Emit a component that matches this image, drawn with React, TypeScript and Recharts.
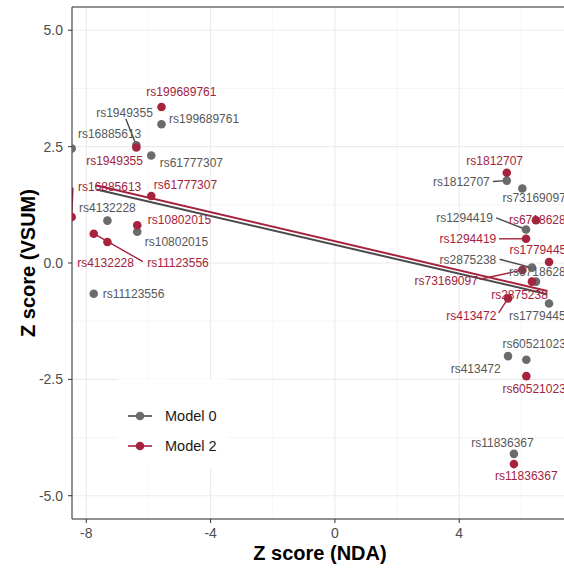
import React from 'react'
import { CartesianGrid, ReferenceLine, Scatter, ScatterChart, XAxis, YAxis } from 'recharts'

const FONT = '"Liberation Sans", Arial, Helvetica, sans-serif'

const snpIds = [
  'rs199689761', 'rs1949355', 'rs16885613', 'rs61777307', 'rs4132228', 'rs10802015',
  'rs11123556', 'rs1812707', 'rs73169097', 'rs1294419', 'rs6718628', 'rs2875238',
  'rs1779445', 'rs413472', 'rs60521023', 'rs11836367',
]
// Z score (NDA), shared by both models
const ndaZ = [-5.58, -6.39, -8.47, -5.91, -7.32, -6.36, -7.76, 5.53, 6.03, 6.15, 6.47, 6.34, 6.89, 5.57, 6.16, 5.76]
// Z score (VSUM)
const vsumModel0 = [2.98, 2.53, 2.46, 2.31, 0.91, 0.67, -0.66, 1.77, 1.6, 0.72, -0.4, -0.1, -0.87, -2.0, -2.08, -4.1]
const vsumModel2 = [3.35, 2.48, 0.99, 1.44, 0.45, 0.81, 0.63, 1.94, -0.15, 0.52, 0.92, -0.4, 0.02, -0.76, -2.43, -4.32]

// repelled label spots, in data units
const labelX0 = [-4.21, -6.77, -7.25, -4.62, -7.32, -5.1, -6.48, 4.07, 5.39, 4.17, 5.6, 4.28, 5.6, 4.53, 5.39, 5.39]
const labelY0 = [3.09, 3.23, 2.78, 2.15, 1.19, 0.46, -0.66, 1.75, 1.4, 0.97, -0.18, 0.08, -1.14, -2.27, -1.73, -3.85]
const labelX2 = [-4.94, -7.09, -7.25, -4.81, -7.38, -5.0, -5.05, 5.14, 3.58, 4.28, 5.6, 5.94, 5.62, 4.39, 5.39, 6.16]
const labelY2 = [3.67, 2.2, 1.63, 1.69, 0.0, 0.92, 0.0, 2.19, -0.38, 0.52, 0.92, -0.68, 0.28, -1.14, -2.71, -4.58]
// labels running off the right edge start at their spot
const startAnchored0 = ['rs73169097', 'rs6718628', 'rs1779445', 'rs60521023']
const startAnchored2 = ['rs6718628', 'rs1779445', 'rs60521023']

// segment start (label side) for labels that got pushed away
const segFrom0: Record<string, [number, number]> = {
  rs1949355: [-6.73, 3.1],
  rs1812707: [5.08, 1.75],
  rs1294419: [5.19, 0.97],
  rs2875238: [5.3, 0.08],
}
const segFrom2: Record<string, [number, number]> = {
  rs16885613: [-8.43, 1.62],
  rs11123556: [-6.18, 0.03],
  rs1294419: [5.28, 0.52],
  rs73169097: [4.66, -0.35],
  rs413472: [5.27, -1.07],
}

// long fitted lines
const fitLine0 = [{ x: -7.67, y: 1.58 }, { x: 6.84, y: -0.67 }]
const fitLine2 = [{ x: -7.7, y: 1.67 }, { x: 6.84, y: -0.6 }]

const xTicks = [-8, -4, 0, 4]
const xMinorTicks = [-6, -2, 2, 6]
const yTicks = [-5, -2.5, 0, 2.5, 5]
const yMinorTicks = [-3.75, -1.25, 1.25, 3.75]
const X_DOMAIN: [number, number] = [-8.46, 7.5]
const Y_DOMAIN: [number, number] = [-5.5, 5.5]

const models = [
  { name: 'Model 0', color: '#6b6b6b', text: '#575757', seg: '#4a4a4a' },
  { name: 'Model 2', color: '#a6233d', text: '#a3233c', seg: '#a6233d' },
]

const points0 = snpIds.map((id, i) => ({ id, x: ndaZ[i], y: vsumModel0[i] }))
const points2 = snpIds.map((id, i) => ({ id, x: ndaZ[i], y: vsumModel2[i] }))
const labels0 = snpIds.map((id, i) => ({
  text: id, x: labelX0[i], y: labelY0[i], anchor: startAnchored0.includes(id) ? 'start' : 'middle',
}))
const labels2 = snpIds.map((id, i) => ({
  text: id, x: labelX2[i], y: labelY2[i], anchor: startAnchored2.includes(id) ? 'start' : 'middle',
}))

const dotShape = (fill: string) => (props: any) => (
  <circle cx={props.cx} cy={props.cy} r={4.3} fill={fill} />
)
const textShape = (fill: string) => (props: any) => (
  <text
    x={props.cx}
    y={props.cy}
    dy="0.36em"
    textAnchor={props.payload.anchor}
    fill={fill}
    fontSize={12}
    fontFamily={FONT}
  >
    {props.payload.text}
  </text>
)

function segments(from: Record<string, [number, number]>, pts: { id: string; x: number; y: number }[], color: string) {
  return Object.keys(from).map((id) => {
    const p = pts.find((d) => d.id === id)!
    return (
      <ReferenceLine
        key={color + id}
        segment={[{ x: from[id][0], y: from[id][1] }, { x: p.x, y: p.y }]}
        stroke={color}
        strokeWidth={1.4}
        ifOverflow="hidden"
      />
    )
  })
}

const tickStyle = { fill: '#4d4d4d', fontSize: 14, fontFamily: FONT }

export default function App() {
  const [m0, m2] = models
  return (
    <div style={{ position: 'absolute', left: 0, top: 0, width: 564, height: 570, overflow: 'hidden', background: '#fff' }}>
      <ScatterChart width={572} height={570} margin={{ top: 7, right: 4, bottom: 0, left: 0 }}>
        <XAxis xAxisId="minor" type="number" dataKey="x" domain={X_DOMAIN} ticks={xMinorTicks} hide allowDataOverflow />
        <YAxis yAxisId="minor" type="number" dataKey="y" domain={Y_DOMAIN} ticks={yMinorTicks} hide allowDataOverflow />
        <CartesianGrid xAxisId="minor" yAxisId="minor" stroke="#f0f0f0" strokeWidth={0.7} />
        <CartesianGrid stroke="#ebebeb" strokeWidth={1.1} />
        <XAxis
          type="number"
          dataKey="x"
          domain={X_DOMAIN}
          ticks={xTicks}
          interval={0}
          allowDataOverflow
          height={51}
          tickSize={4}
          tickMargin={5}
          stroke="#333333"
          tick={tickStyle}
        />
        <YAxis
          type="number"
          dataKey="y"
          domain={Y_DOMAIN}
          ticks={yTicks}
          interval={0}
          allowDataOverflow
          width={72}
          tickSize={4}
          tickMargin={5}
          stroke="#333333"
          tick={tickStyle}
          tickFormatter={(v: number) => v.toFixed(1)}
        />
        <ReferenceLine y={Y_DOMAIN[1]} stroke="#333333" />
        <ReferenceLine x={X_DOMAIN[1]} stroke="#333333" />
        <ReferenceLine segment={fitLine0} stroke={m0.seg} strokeWidth={2} ifOverflow="hidden" />
        <ReferenceLine segment={fitLine2} stroke={m2.seg} strokeWidth={2} ifOverflow="hidden" />
        {segments(segFrom0, points0, m0.seg)}
        {segments(segFrom2, points2, m2.seg)}
        <Scatter name={m0.name} data={points0} shape={dotShape(m0.color)} isAnimationActive={false} />
        <Scatter name={m2.name} data={points2} shape={dotShape(m2.color)} isAnimationActive={false} />
        <Scatter data={labels0} shape={textShape(m0.text)} isAnimationActive={false} />
        <Scatter data={labels2} shape={textShape(m2.text)} isAnimationActive={false} />
      </ScatterChart>
      <svg width={564} height={570} style={{ position: 'absolute', left: 0, top: 0, pointerEvents: 'none' }}>
        <text x={320} y={560} textAnchor="middle" fontSize={20} fontWeight="bold" fontFamily={FONT} fill="#000">
          Z score (NDA)
        </text>
        <text
          x={35}
          y={263}
          transform="rotate(-90 35 263)"
          textAnchor="middle"
          fontSize={20}
          fontWeight="bold"
          fontFamily={FONT}
          fill="#000"
        >
          Z score (VSUM)
        </text>
        <rect x={117} y={379} width={111} height={90} fill="#fff" />
        {models.map((m, i) => {
          const cy = 416 + i * 30
          return (
            <g key={m.name}>
              <line x1={128} x2={152} y1={cy} y2={cy} stroke={m.seg} strokeWidth={1.6} />
              <circle cx={140} cy={cy} r={4.3} fill={m.color} />
              <text x={165} y={cy} dy="0.36em" fontSize={14.5} fontFamily={FONT} fill="#1a1a1a">
                {m.name}
              </text>
            </g>
          )
        })}
      </svg>
    </div>
  )
}
